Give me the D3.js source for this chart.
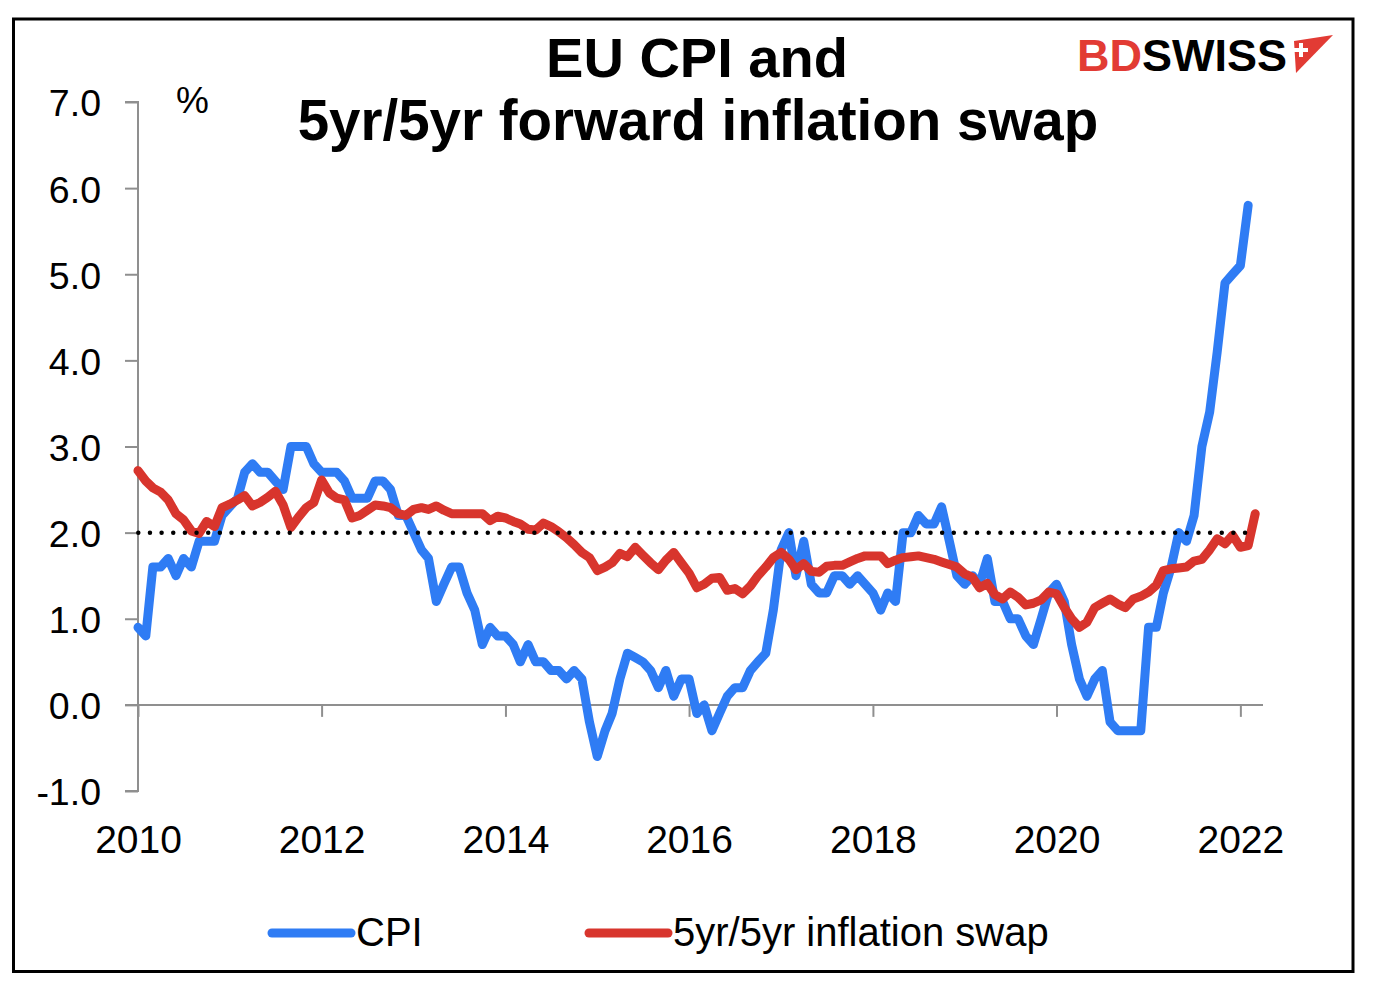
<!DOCTYPE html>
<html><head><meta charset="utf-8">
<script src="https://cdn.jsdelivr.net/npm/d3@7"></script>
<style>
body{margin:0;background:#fff}
svg{display:block}
text{font-family:"Liberation Sans",Arial,Helvetica,sans-serif}
</style>
</head><body>
<svg id="chart" width="1382" height="1000"></svg>
<script>
// ---- data (monthly, starting January 2010) ----
const startYear = 2010;
const cpiValues = [
  0.9, 0.8, 1.6, 1.6, 1.7, 1.5, 1.7, 1.6, 1.9, 1.9, 1.9, 2.2,
  2.3, 2.4, 2.7, 2.8, 2.7, 2.7, 2.6, 2.5, 3.0, 3.0, 3.0, 2.8,
  2.7, 2.7, 2.7, 2.6, 2.4, 2.4, 2.4, 2.6, 2.6, 2.5, 2.2, 2.2,
  2.0, 1.8, 1.7, 1.2, 1.4, 1.6, 1.6, 1.3, 1.1, 0.7, 0.9, 0.8,
  0.8, 0.7, 0.5, 0.7, 0.5, 0.5, 0.4, 0.4, 0.3, 0.4, 0.3, -0.2,
  -0.6, -0.3, -0.1, 0.3, 0.6, 0.55, 0.5, 0.4, 0.2, 0.4, 0.1, 0.3,
  0.3, -0.1, 0.0, -0.3, -0.1, 0.1, 0.2, 0.2, 0.4, 0.5, 0.6, 1.1,
  1.8, 2.0, 1.5, 1.9, 1.4, 1.3, 1.3, 1.5, 1.5, 1.4, 1.5, 1.4,
  1.3, 1.1, 1.3, 1.2, 2.0, 2.0, 2.2, 2.1, 2.1, 2.3, 1.9, 1.5,
  1.4, 1.5, 1.4, 1.7, 1.2, 1.2, 1.0, 1.0, 0.8, 0.7, 1.0, 1.3,
  1.4, 1.2, 0.7, 0.3, 0.1, 0.3, 0.4, -0.2, -0.3, -0.3, -0.3, -0.3,
  0.9, 0.9, 1.3, 1.6, 2.0, 1.9, 2.2, 3.0, 3.4, 4.1, 4.9, 5.0,
  5.1, 5.8
];
const swapValues = [
  2.72, 2.60, 2.52, 2.47, 2.38, 2.22, 2.15, 2.02, 1.99, 2.13, 2.07, 2.29,
  2.33, 2.38, 2.43, 2.31, 2.35, 2.41, 2.48, 2.32, 2.06, 2.18, 2.29, 2.35,
  2.61, 2.46, 2.40, 2.38, 2.17, 2.20, 2.26, 2.32, 2.31, 2.29, 2.22, 2.20,
  2.27, 2.29, 2.27, 2.31, 2.26, 2.22, 2.22, 2.22, 2.22, 2.22, 2.14, 2.19,
  2.17, 2.13, 2.10, 2.04, 2.03, 2.11, 2.07, 2.01, 1.94, 1.86, 1.77, 1.71,
  1.56, 1.60, 1.65, 1.76, 1.72, 1.83, 1.74, 1.65, 1.57, 1.68, 1.77, 1.65,
  1.53, 1.36, 1.40, 1.47, 1.48, 1.33, 1.35, 1.29, 1.38, 1.50, 1.60, 1.71,
  1.77, 1.69, 1.57, 1.64, 1.55, 1.54, 1.61, 1.62, 1.62, 1.66, 1.70, 1.73,
  1.73, 1.73, 1.64, 1.68, 1.71, 1.72, 1.73, 1.71, 1.69, 1.66, 1.63, 1.60,
  1.52, 1.48, 1.36, 1.41, 1.28, 1.23, 1.31, 1.25, 1.16, 1.18, 1.22, 1.31,
  1.29, 1.13, 1.00, 0.90, 0.96, 1.13, 1.18, 1.23, 1.17, 1.13, 1.23, 1.26,
  1.31, 1.39, 1.56, 1.58, 1.59, 1.60, 1.67, 1.69, 1.80, 1.93, 1.87, 1.97,
  1.83, 1.85, 2.22
];
const yTickValues = [-1, 0, 1, 2, 3, 4, 5, 6, 7];
const xTickYears = [2010, 2012, 2014, 2016, 2018, 2020, 2022];
const targetLevel = 2.0;
const titleLines = ["EU CPI and", "5yr/5yr forward inflation swap"];
const seriesNames = ["CPI", "5yr/5yr inflation swap"];
const unitLabel = "%";

// ---- setup ----
const FONT = '"Liberation Sans",Arial,Helvetica,sans-serif';
const BLUE = "#2F7CF4", RED = "#D8352D", AXIS = "#8f8f8f";
const svg = d3.select("#chart");
svg.append("rect").attr("width", 1382).attr("height", 1000).attr("fill", "#fff");
svg.append("rect").attr("x", 13.5).attr("y", 19).attr("width", 1339.5).attr("height", 952.5)
  .attr("fill", "none").attr("stroke", "#000").attr("stroke-width", 3);

const monthDate = i => new Date(startYear, i, 1);
const x = d3.scaleTime().domain([new Date(2010, 0, 1), new Date(2022, 3, 1)]).range([138, 1263]);
const y = d3.scaleLinear().domain([-1, 7]).range([791, 102]);

// y axis
const yAxis = svg.append("g").attr("transform", "translate(138,0)")
  .call(d3.axisLeft(y).tickValues(yTickValues).tickSize(13).tickPadding(24)
    .tickFormat(d => d.toFixed(1)));
yAxis.select(".domain").attr("stroke", AXIS).attr("stroke-width", 2).attr("d", `M-13,${y(7)}H0V${y(-1)}H-13`);
yAxis.selectAll(".tick line").attr("stroke", AXIS).attr("stroke-width", 2);
yAxis.selectAll(".tick text").attr("font-family", FONT).attr("font-size", 37.5).attr("fill", "#000").attr("dy", "0.37em");

// x axis line at zero with tick marks
const xAxis = svg.append("g").attr("transform", `translate(0,${y(0)})`)
  .call(d3.axisBottom(x).tickValues(xTickYears.map(v => new Date(v, 0, 1))).tickSize(12).tickFormat(""));
xAxis.select(".domain").attr("stroke", AXIS).attr("stroke-width", 2).attr("d", `M125,0H${x.range()[1]}`);
xAxis.selectAll(".tick line").attr("stroke", AXIS).attr("stroke-width", 2);

// x axis labels below the plot
const xLabels = svg.append("g").attr("transform", `translate(0,${y(-1)})`)
  .call(d3.axisBottom(x).tickValues(xTickYears.map(v => new Date(v, 0, 1))).tickSize(0).tickPadding(34)
    .tickFormat(d3.timeFormat("%Y")));
xLabels.select(".domain").remove();
xLabels.selectAll(".tick text").attr("font-family", FONT).attr("font-size", 39).attr("fill", "#000");

// unit label
svg.append("text").attr("x", 176).attr("y", 113).attr("font-family", FONT).attr("font-size", 37).text(unitLabel);

// lines
const line = d3.line().x((d, i) => x(monthDate(i))).y(d => y(d));
svg.append("path").datum(cpiValues).attr("d", line).attr("fill", "none")
  .attr("stroke", BLUE).attr("stroke-width", 9).attr("stroke-linejoin", "round").attr("stroke-linecap", "round");
svg.append("path").datum(swapValues).attr("d", line).attr("fill", "none")
  .attr("stroke", RED).attr("stroke-width", 9).attr("stroke-linejoin", "round").attr("stroke-linecap", "round");

// 2% dotted line
svg.append("line").attr("x1", 138.3).attr("x2", 1245.5).attr("y1", y(targetLevel)).attr("y2", y(targetLevel))
  .attr("stroke", "#000").attr("stroke-width", 4.5).attr("stroke-linecap", "round").attr("stroke-dasharray", "0 11.65");

// title
svg.append("text").attr("x", 697).attr("y", 77).attr("text-anchor", "middle").attr("font-family", FONT)
  .attr("font-size", 56).attr("font-weight", "bold").text(titleLines[0]);
svg.append("text").attr("x", 698).attr("y", 140).attr("text-anchor", "middle").attr("font-family", FONT)
  .attr("font-size", 56.5).attr("font-weight", "bold").text(titleLines[1]);

// logo
const logo = svg.append("text").attr("x", 1077).attr("y", 71).attr("font-family", FONT)
  .attr("font-size", 45).attr("font-weight", "bold");
logo.append("tspan").attr("fill", "#E23B34").text("BD");
logo.append("tspan").attr("fill", "#000").text("SWISS");
svg.append("path").attr("d", "M1294,41 L1333,35 L1296,73 Z").attr("fill", "#E23B34");
svg.append("path").attr("d", "M1299,43h4v5h5v4h-5v5h-4v-5h-5v-4h5z").attr("fill", "#fff");

// legend
const legend = [
  {name: seriesNames[0], color: BLUE, x1: 272, x2: 351, tx: 356},
  {name: seriesNames[1], color: RED, x1: 589, x2: 668, tx: 673}
];
legend.forEach(l => {
  svg.append("line").attr("x1", l.x1).attr("x2", l.x2).attr("y1", 933).attr("y2", 933)
    .attr("stroke", l.color).attr("stroke-width", 9).attr("stroke-linecap", "round");
  svg.append("text").attr("x", l.tx).attr("y", 946).attr("font-family", FONT).attr("font-size", 40).text(l.name);
});
</script>
</body></html>
